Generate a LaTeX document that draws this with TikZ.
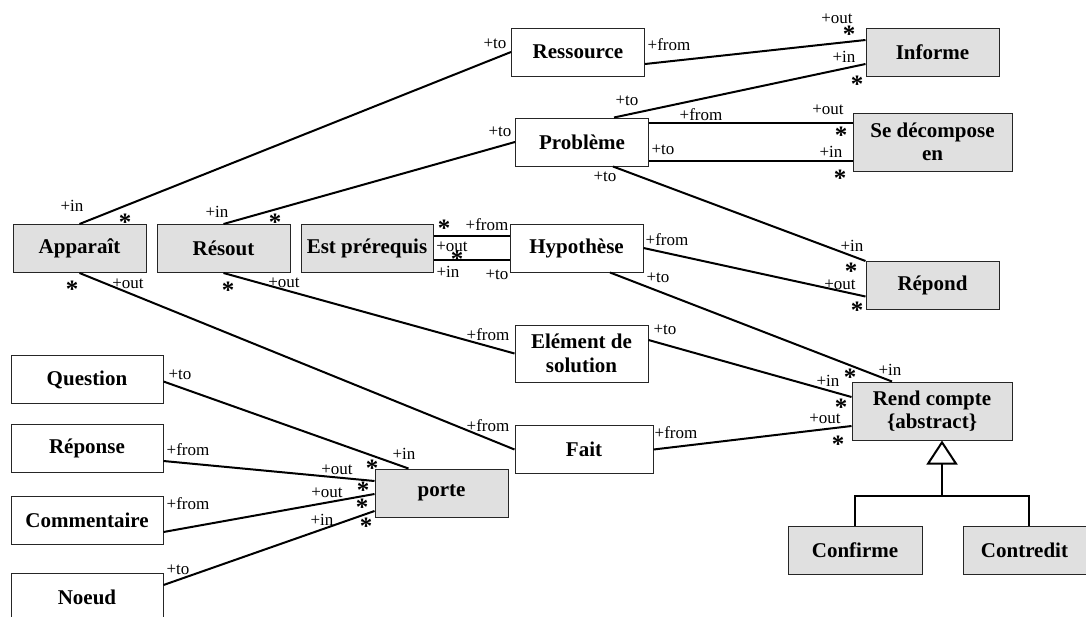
\documentclass[tikz,border=0pt]{standalone}
\usepackage{fontspec}
\setmainfont{Liberation Serif}
\usetikzlibrary{calc,arrows.meta}

\begin{document}
\begin{tikzpicture}[x=0.5pt,y=-0.5pt,
    cls/.style={draw=black!85, line width=0.5pt, fill=white, align=center,
        font=\fontsize{10.5}{11.75}\selectfont\bfseries, inner sep=1pt,
        minimum width=66.5pt, minimum height=24pt},
    gcls/.style={cls, fill=black!12},
    assoc/.style={line width=1pt},
    role/.style={font=\fontsize{8.5}{9}\selectfont, inner sep=0pt, text height=1.4ex, text depth=0pt},
    mult/.style={font=\fontsize{12.5}{12.5}\selectfont\bfseries, inner sep=0pt, yshift=-1.6pt}]
    \useasboundingbox (0,0) rectangle (1086,616);

    % Classes
    \node[cls] (ressource) at (578,52) {Ressource};
    \node[gcls] (informe) at (932.5,52) {Informe};
    \node[cls] (probleme) at (582,142) {Problème};
    \node[gcls, minimum width=79.5pt, minimum height=29pt] (decompose) at (932.5,142) {Se décompose\\en};
    \node[gcls] (apparait) at (79.5,248.5) {Apparaît};
    \node[gcls] (resout) at (223.5,248.5) {Résout};
    \node[gcls, minimum width=66pt] (prereq) at (367,248) {Est prérequis};
    \node[cls] (hypothese) at (576.5,248) {Hypothèse};
    \node[gcls] (repond) at (932.5,285.5) {Répond};
    \node[cls, minimum height=28.5pt] (element) at (581.5,353.5) {Elément de\\solution};
    \node[gcls, minimum width=80pt, minimum height=29pt] (rendcompte) at (932,411) {Rend compte\\\{abstract\}};
    \node[cls, minimum width=69pt] (fait) at (584,449.5) {Fait};
    \node[cls, minimum width=76pt] (question) at (87,379.5) {Question};
    \node[cls, minimum width=76pt] (reponse) at (87,448) {Réponse};
    \node[cls, minimum width=76pt] (commentaire) at (87,520) {Commentaire};
    \node[cls, minimum width=76pt] (noeud) at (87,597) {Noeud};
    \node[gcls] (porte) at (441.5,493) {porte};
    \node[gcls, minimum width=67pt] (confirme) at (855,550) {Confirme};
    \node[gcls, minimum width=61.5pt] (contredit) at (1024.5,550) {Contredit};

    % Associations
    \draw[assoc] (apparait.north) -- (ressource.west);
    \draw[assoc] ($(ressource.east)+(0,12)$) -- ($(informe.west)+(0,-12)$);
    \draw[assoc] ($(probleme.north)+(32,0)$) -- ($(informe.west)+(0,12)$);
    \draw[assoc] ($(probleme.east)+(0,-19)$) -- ($(decompose.west)+(0,-19)$);
    \draw[assoc] ($(probleme.east)+(0,19)$) -- ($(decompose.west)+(0,19)$);
    \draw[assoc] (resout.north) -- (probleme.west);
    \draw[assoc] ($(probleme.south)+(31,0)$) -- (repond.north west);
    \draw[assoc] (hypothese.east) -- ($(repond.west)+(0,11)$);
    \draw[assoc] ($(hypothese.south)+(33.5,0)$) -- ($(rendcompte.north)+(-40,0)$);
    \draw[assoc] ($(prereq.east)+(0,-12)$) -- ($(hypothese.west)+(0,-12)$);
    \draw[assoc] ($(prereq.east)+(0,12)$) -- ($(hypothese.west)+(0,12)$);
    \draw[assoc] (resout.south) -- (element.west);
    \draw[assoc] ($(element.east)+(0,-13.5)$) -- ($(rendcompte.west)+(0,-14)$);
    \draw[assoc] (apparait.south) -- (fait.west);
    \draw[assoc] (fait.east) -- ($(rendcompte.west)+(0,15)$);
    \draw[assoc] ($(question.east)+(0,2)$) -- ($(porte.north)+(-33,0)$);
    \draw[assoc] ($(reponse.east)+(0,13)$) -- ($(porte.west)+(0,-12)$);
    \draw[assoc] ($(commentaire.east)+(0,12)$) -- ($(porte.west)+(0,1)$);
    \draw[assoc] ($(noeud.east)+(0,-12)$) -- ($(porte.west)+(0,18)$);

    % Generalisation
    \coordinate (bar) at (942,496);
    \draw[assoc] (confirme.north) |- (bar) -| ($(contredit.north)+(4.5,0)$);
    \draw[assoc, -{Triangle[open, length=12pt, width=15.5pt]}] (bar) -- ($(rendcompte.south)+(10,0)$);

    % Roles
    \foreach \x/\y/\t [count=\i] in {72/205/+in, 495/42/+to, 669/44/+from, 837/17/+out,
        627/99/+to, 844/56/+in, 701/114/+from, 828/108/+out, 663/148/+to, 831/151/+in,
        217/211/+in, 500/130/+to, 605/175/+to, 852/245/+in, 667/239/+from, 840/283/+out,
        658/276/+to, 890/369/+in, 487/224/+from, 452/245/+out, 448/271/+in, 497/273/+to,
        128/282/+out, 284/281/+out, 488/334/+from, 665/328/+to, 828/380/+in, 488/425/+from,
        676/432/+from, 825/417/+out, 180/373/+to, 404/453/+in, 188/449/+from, 337/468/+out,
        188/503/+from, 327/491/+out, 178/568/+to, 322/519/+in}
        \node[role] (r\i) at (\x,\y) {\t};

    % Multiplicities
    \foreach \x/\y [count=\i] in {125/219, 849/31, 857/81, 841/132, 840/175, 275/219,
        851/268, 857/307, 850/374, 444/225, 457/256, 228/287, 841/404, 72/286, 838/441,
        372/465, 363/487, 362/504, 366/523}
        \node[mult] (m\i) at (\x,\y) {*};
\end{tikzpicture}
\end{document}
